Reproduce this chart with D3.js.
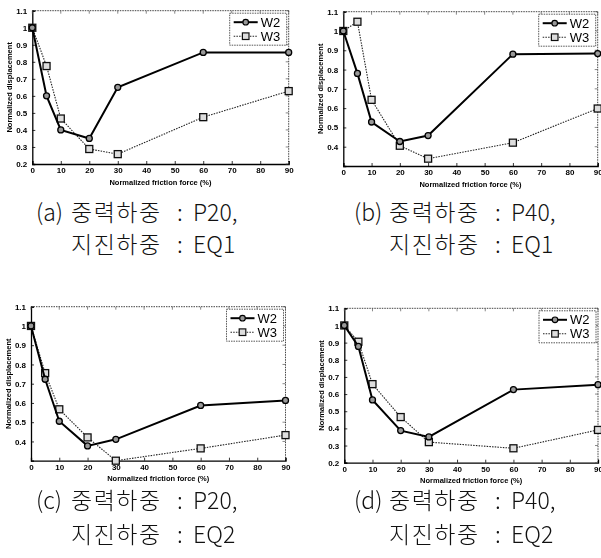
<!DOCTYPE html>
<html>
<head>
<meta charset="utf-8">
<script src="https://cdn.jsdelivr.net/npm/d3@7/dist/d3.min.js"></script>
<style>
  html, body { margin: 0; padding: 0; background: #fff; }
  svg { display: block; }
</style>
</head>
<body>
<svg id="fig" width="601" height="558"></svg>
<script>
// Normalized friction force (%) at which each case was analysed
const frictionForce = [0, 5, 10, 20, 30, 60, 90];
const xTicks = [0, 10, 20, 30, 40, 50, 60, 70, 80, 90];
const seriesNames = ["W2", "W3"];

// Normalized displacement, one pair of series per load case
const w2_a = [1.0, 0.60, 0.40, 0.35, 0.65, 0.855, 0.855];
const w3_a = [1.0, 0.775, 0.467, 0.288, 0.258, 0.475, 0.628];
const w2_b = [1.0, 0.78, 0.528, 0.427, 0.458, 0.88, 0.883];
const w3_b = [1.0, 1.048, 0.643, 0.405, 0.338, 0.421, 0.598];
const w2_c = [1.0, 0.723, 0.505, 0.377, 0.411, 0.587, 0.613];
const w3_c = [1.0, 0.755, 0.567, 0.421, 0.30, 0.364, 0.433];
const w2_d = [1.0, 0.878, 0.566, 0.387, 0.350, 0.626, 0.655];
const w3_d = [1.0, 0.905, 0.658, 0.466, 0.320, 0.284, 0.391];

// y-axis range and labelled ticks of each panel
const yDomains = [[0.2, 1.1], [0.3, 1.1], [0.3, 1.1], [0.2, 1.1]];
const yTicksFull = [0.2, 0.3, 0.4, 0.5, 0.6, 0.7, 0.8, 0.9, 1.0, 1.1];
const yTicksUpper = [0.4, 0.5, 0.6, 0.7, 0.8, 0.9, 1.0, 1.1];
const yTickSets = [yTicksFull, yTicksUpper, yTicksUpper, yTicksFull];

// Captions under each panel: tag, then (label, value) per line
const captionTags = ["(a)", "(b)", "(c)", "(d)"];
const captionLabel1 = "중력하중";
const captionLabel2 = "지진하중";
const gravityLoads = ["P20,", "P40,", "P20,", "P40,"];
const seismicLoads = ["EQ1", "EQ1", "EQ2", "EQ2"];

const xLabel = "Normalized friction force (%)";
const yLabel = "Normalized displacement";

// Plot-area rectangles (left, right, top, bottom) in page pixels
const frames = [
  { l: 32.3, r: 288.7, t: 10.7, b: 164.0 },
  { l: 343.3, r: 597.7, t: 11.7, b: 166.0 },
  { l: 31.0, r: 285.5, t: 306.7, b: 460.7 },
  { l: 344.3, r: 598.0, t: 308.3, b: 462.7 }
];
const captionPos = [
  { x: 36, y1: 221, y2: 253 },
  { x: 354, y1: 221, y2: 253 },
  { x: 36, y1: 509, y2: 543 },
  { x: 354, y1: 509, y2: 543 }
];

const panelSeries = [[w2_a, w3_a], [w2_b, w3_b], [w2_c, w3_c], [w2_d, w3_d]];

const svg = d3.select("#fig");
const defs = svg.append("defs");
defs.append("filter").attr("id", "soft")
  .attr("x", "-5%").attr("y", "-5%").attr("width", "110%").attr("height", "110%")
  .append("feGaussianBlur").attr("stdDeviation", 0.45);

const fmtY = d => (Math.abs(d - 1) < 1e-9 ? "1" : d3.format(".1f")(d));
const plotFont = "Arial, 'Liberation Sans', sans-serif";

function drawPanel(i) {
  const f = frames[i];
  const x = d3.scaleLinear().domain([0, 90]).range([f.l, f.r]);
  const y = d3.scaleLinear().domain(yDomains[i]).range([f.b, f.t]);
  const g = svg.append("g").attr("filter", "url(#soft)");

  // dotted top and right box edges
  g.append("line").attr("x1", f.l).attr("x2", f.r).attr("y1", f.t).attr("y2", f.t)
    .attr("stroke", "#444").attr("stroke-width", 1).attr("stroke-dasharray", "1.5,1");
  g.append("line").attr("x1", f.r).attr("x2", f.r).attr("y1", f.t).attr("y2", f.b)
    .attr("stroke", "#444").attr("stroke-width", 1).attr("stroke-dasharray", "1.5,1");

  // bottom axis
  const xAxis = d3.axisBottom(x).tickValues(xTicks).tickSize(-3).tickPadding(5).tickFormat(d3.format("d"));
  const gx = g.append("g").attr("transform", `translate(0,${f.b})`).call(xAxis);
  // left axis
  const yAxis = d3.axisLeft(y).tickValues(yTickSets[i]).tickSize(-3).tickPadding(5).tickFormat(fmtY);
  const gy = g.append("g").attr("transform", `translate(${f.l},0)`).call(yAxis);

  [gx, gy].forEach(a => {
    a.select(".domain").attr("stroke", "#000").attr("stroke-width", 1.3);
    a.selectAll(".tick line").attr("stroke", "#000").attr("stroke-width", 0.8);
    a.selectAll("text").attr("fill", "#000")
      .style("font-family", plotFont)
      .style("font-size", "8px").style("font-weight", "bold");
  });
  gx.selectAll(".tick text").attr("dy", "0.5em");
  // right-edge and top-edge ticks, mirrored like a boxed plot
  g.selectAll(".rt").data(yTickSets[i]).enter().append("line")
    .attr("x1", f.r).attr("x2", f.r - 3).attr("y1", d => y(d)).attr("y2", d => y(d))
    .attr("stroke", "#555").attr("stroke-width", 0.7);
  g.selectAll(".tt").data(xTicks).enter().append("line")
    .attr("x1", d => x(d)).attr("x2", d => x(d)).attr("y1", f.t).attr("y2", f.t + 3)
    .attr("stroke", "#555").attr("stroke-width", 0.7);

  // axis titles
  g.append("text").attr("x", (f.l + f.r) / 2).attr("y", f.b + 20.5)
    .attr("text-anchor", "middle").attr("fill", "#000")
    .style("font-family", plotFont)
    .style("font-size", "7.5px").style("font-weight", "bold").text(xLabel);
  g.append("text")
    .attr("transform", `translate(${f.l - 20},${(f.t + f.b) / 2}) rotate(-90)`)
    .attr("text-anchor", "middle").attr("fill", "#000")
    .style("font-family", plotFont)
    .style("font-size", "7.5px").style("font-weight", "bold").text(yLabel);

  const line = d3.line().x((d, k) => x(frictionForce[k])).y(d => y(d));
  const [w2, w3] = panelSeries[i];

  // W3: dotted line with square markers
  g.append("path").datum(w3).attr("d", line).attr("fill", "none")
    .attr("stroke", "#222").attr("stroke-width", 1.1).attr("stroke-dasharray", "1.5,1.2");
  g.selectAll(".sq").data(w3).enter().append("rect")
    .attr("x", (d, k) => x(frictionForce[k]) - 3.5).attr("y", d => y(d) - 3.5)
    .attr("width", 7).attr("height", 7).attr("fill", "#ddd")
    .attr("stroke", "#111").attr("stroke-width", 1.3);

  // W2: solid line with circle markers
  g.append("path").datum(w2).attr("d", line).attr("fill", "none")
    .attr("stroke", "#000").attr("stroke-width", 2);
  g.selectAll(".ci").data(w2).enter().append("circle")
    .attr("cx", (d, k) => x(frictionForce[k])).attr("cy", d => y(d)).attr("r", 3)
    .attr("fill", "#999").attr("stroke", "#000").attr("stroke-width", 1.3);

  // legend
  const lw = 57, lh = 32;
  const lx = f.r - 2 - lw, ly = f.t + 2.5;
  const lg = g.append("g");
  lg.append("rect").attr("x", lx).attr("y", ly).attr("width", lw).attr("height", lh)
    .attr("fill", "#fff").attr("stroke", "#444").attr("stroke-width", 0.9)
    .attr("stroke-dasharray", "1.5,1");
  seriesNames.forEach((name, k) => {
    const yy = ly + 9 + k * 14;
    const isW2 = k === 0;
    lg.append("line").attr("x1", lx + 4).attr("x2", lx + 28).attr("y1", yy).attr("y2", yy)
      .attr("stroke", isW2 ? "#000" : "#222").attr("stroke-width", isW2 ? 2 : 1.1)
      .attr("stroke-dasharray", isW2 ? null : "1.5,1.2");
    if (isW2) {
      lg.append("circle").attr("cx", lx + 16).attr("cy", yy).attr("r", 2.8)
        .attr("fill", "#999").attr("stroke", "#000").attr("stroke-width", 1.2);
    } else {
      lg.append("rect").attr("x", lx + 12.7).attr("y", yy - 3.3).attr("width", 6.6).attr("height", 6.6)
        .attr("fill", "#ddd").attr("stroke", "#111").attr("stroke-width", 1.2);
    }
    lg.append("text").attr("x", lx + 31).attr("y", yy + 4.6).attr("fill", "#000")
      .style("font-family", plotFont)
      .style("font-size", "13px").text(name);
  });

  // caption: labels and colons line up in two columns
  const c = captionPos[i];
  const cap = svg.append("g").style("font-family", "'Noto Sans CJK KR', sans-serif")
    .style("font-size", "23px").style("font-weight", 300).attr("fill", "#111");
  const row = (y0, tag, label, value) => {
    if (tag) cap.append("text").attr("x", c.x).attr("y", y0).text(tag);
    cap.append("text").attr("x", c.x + 35).attr("y", y0)
      .style("letter-spacing", "1.5px").text(label);
    cap.append("text").attr("x", c.x + 141).attr("y", y0).text(":");
    cap.append("text").attr("x", c.x + 157).attr("y", y0).text(value);
  };
  row(c.y1, captionTags[i], captionLabel1, gravityLoads[i]);
  row(c.y2, null, captionLabel2, seismicLoads[i]);
}

for (let i = 0; i < 4; i++) drawPanel(i);
</script>
</body>
</html>
